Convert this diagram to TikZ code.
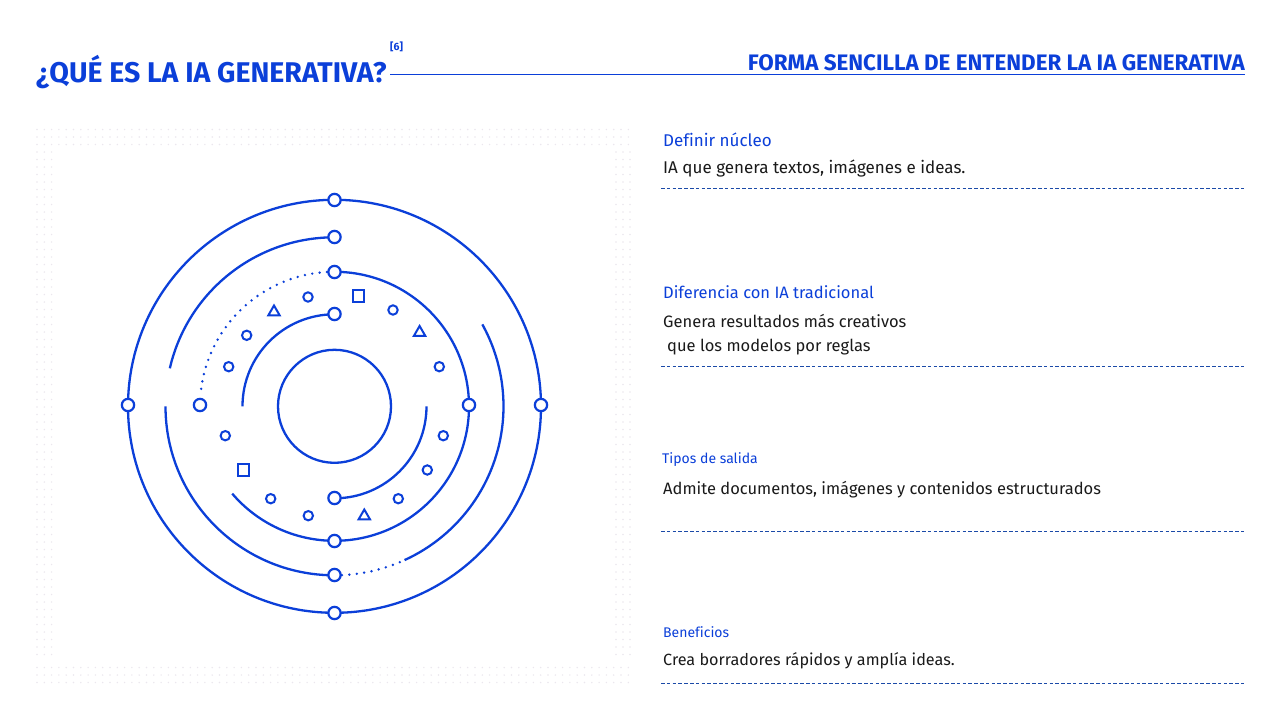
\documentclass[tikz,border=0pt]{standalone}
\usepackage{fontspec}
\setmainfont[Ligatures=NoCommon]{Fira Sans}
\usetikzlibrary{shapes.geometric, positioning}

\definecolor{iablue}{HTML}{0B3FD9}
\definecolor{iadash}{HTML}{1B4AA8}
\definecolor{iadot}{HTML}{EBE7EE}
\definecolor{iatext}{HTML}{1A1A1A}

\tikzset{
    ring/.style={draw=iablue, line width=2.3pt},
    ringdots/.style={iablue, line width=2.7pt, line cap=round, dash pattern=on 0pt off 7.45pt},
    knob/.style={circle, draw=iablue, fill=white, line width=2.2pt, minimum size=12.3pt, inner sep=0pt},
    spot/.style={circle, draw=iablue, fill=white, line width=2pt, minimum size=9.4pt, inner sep=0pt},
    sqr/.style={rectangle, draw=iablue, line width=2pt, minimum size=11.3pt, inner sep=0pt},
    tri/.style={regular polygon, regular polygon sides=3, draw=iablue, line width=2pt, minimum size=13pt, inner sep=0pt},
    head/.style={anchor=base west, inner sep=0pt, text=iablue},
    body/.style={anchor=base west, inner sep=0pt, text=iatext, font=\fontsize{16.5}{19}\selectfont},
    rule/.style={draw=iadash, line width=1pt, dash pattern=on 3.6pt off 2.2pt},
}

\begin{document}
\begin{tikzpicture}[x=1pt, y=-1pt]
    \useasboundingbox (0,0) rectangle (1280,720);
    \fill[white] (0,0) rectangle (1280,720);

    % dotted frame
    \foreach \yy in {129.5,137,144.5,667.5,675,682.5} {
        \foreach \xx in {37,44.3,...,631} {
            \fill[iadot] (\xx,\yy) circle (0.8pt);
        }
    }
    \foreach \yy in {152,159.5,...,660} {
        \foreach \xx in {37,44.3,51.6,616,623,630} {
            \fill[iadot] (\xx,\yy) circle (0.8pt);
        }
    }

    % title
    \node[head, font=\fontsize{28.5}{30}\selectfont\bfseries] (title) at (36,82) {¿QUÉ ES LA IA GENERATIVA?};
    \node[head, font=\fontsize{10.5}{12}\selectfont\bfseries] (ref) at (390,50) {[6]};
    \coordinate (ruleA) at (390,74.5);
    \coordinate (ruleB) at (1245,74.5);
    \draw[iablue, line width=1pt] (ruleA) -- (ruleB);
    \node[head, anchor=base east, font=\fontsize{22.4}{24}\selectfont\bfseries] (sub) at (1245,70.5) {FORMA SENCILLA DE ENTENDER LA IA GENERATIVA};

    % rings
    \coordinate (o) at (334.5,406.3);
    \draw[ring] (o) circle (206.5pt);
    \draw[ring] (o) circle (56.5pt);
    \draw[ring] (o) ++(90:169pt) arc[start angle=90, end angle=167, radius=169pt];
    \draw[ring] (o) ++(180:169pt) arc[start angle=180, end angle=270, radius=169pt];
    \draw[ringdots] (o) ++(270:169pt) arc[start angle=270, end angle=293, radius=169pt];
    \draw[ring] (o) ++(294.5:169pt) arc[start angle=294.5, end angle=389, radius=169pt];
    \draw[ring] (o) ++(90:134.5pt) arc[start angle=90, end angle=-139.5, radius=134.5pt];
    \draw[ringdots] (o) ++(90:134.5pt) arc[start angle=90, end angle=174, radius=134.5pt];
    \draw[ring] (o) ++(90:92pt) arc[start angle=90, end angle=180, radius=92pt];
    \draw[ring] (o) ++(270:92pt) arc[start angle=270, end angle=360, radius=92pt];

    % knobs on the rings
    \foreach \nm/\xx/\yy in {t1/334.5/200, t2/334.5/237, t3/334.5/272, t4/334.5/314,
                             b4/334.5/498, b3/334.5/541, b2/334.5/575, b1/334.5/613,
                             l1/128/405, l3/200/405, r3/469/405, r1/541/405} {
        \node[knob] (\nm) at (\xx,\yy) {};
    }

    % small marks
    \foreach \nm/\xx/\yy in {s1/308/297, s2/393/310, s3/246.7/335.3, s4/228.7/366.7, s5/439.3/366.7,
                             s6/225.3/435.7, s7/443.3/435.7, s8/427.3/470, s9/398.3/498.7,
                             s10/270.7/498.7, s11/308.3/515.7} {
        \node[spot] (\nm) at (\xx,\yy) {};
    }
    \node[sqr] (q1) at (358.3,296) {};
    \node[sqr] (q2) at (243.3,470) {};
    \node[tri] (d1) at (274,312) {};
    \node[tri] (d2) at (419.6,332.5) {};
    \node[tri] (d3) at (364.3,516) {};

    % right column
    \node[head, font=\fontsize{17}{19}\selectfont] (h1) at (663,146) {Definir núcleo};
    \node[body, font=\fontsize{17}{19}\selectfont] (t1a) at (663,173) {IA que genera textos, imágenes e ideas.};
    \coordinate (c1a) at (661,188.5);
    \coordinate (c1b) at (1244,188.5);
    \draw[rule] (c1a) -- (c1b);

    \node[head, font=\fontsize{16.5}{19}\selectfont] (h2) at (663,298) {Diferencia con IA tradicional};
    \node[body] (t2a) at (663,327) {Genera resultados más creativos};
    \node[body] (t2b) at (667,351) {que los modelos por reglas};
    \coordinate (c2a) at (661,366.5);
    \coordinate (c2b) at (1244,366.5);
    \draw[rule] (c2a) -- (c2b);

    \node[head, font=\fontsize{14}{17}\selectfont] (h3) at (662,463) {Tipos de salida};
    \node[body] (t3a) at (663,494.5) {Admite documentos, imágenes y contenidos estructurados};
    \coordinate (c3a) at (661,531);
    \coordinate (c3b) at (1244,531);
    \draw[rule] (c3a) -- (c3b);

    \node[head, font=\fontsize{14}{16}\selectfont] (h4) at (663,637) {Beneficios};
    \node[body, font=\fontsize{16.2}{19}\selectfont] (t4a) at (663,665.5) {Crea borradores rápidos y amplía ideas.};
    \coordinate (c4a) at (661,683.5);
    \coordinate (c4b) at (1244,683.5);
    \draw[rule] (c4a) -- (c4b);
\end{tikzpicture}
\end{document}
